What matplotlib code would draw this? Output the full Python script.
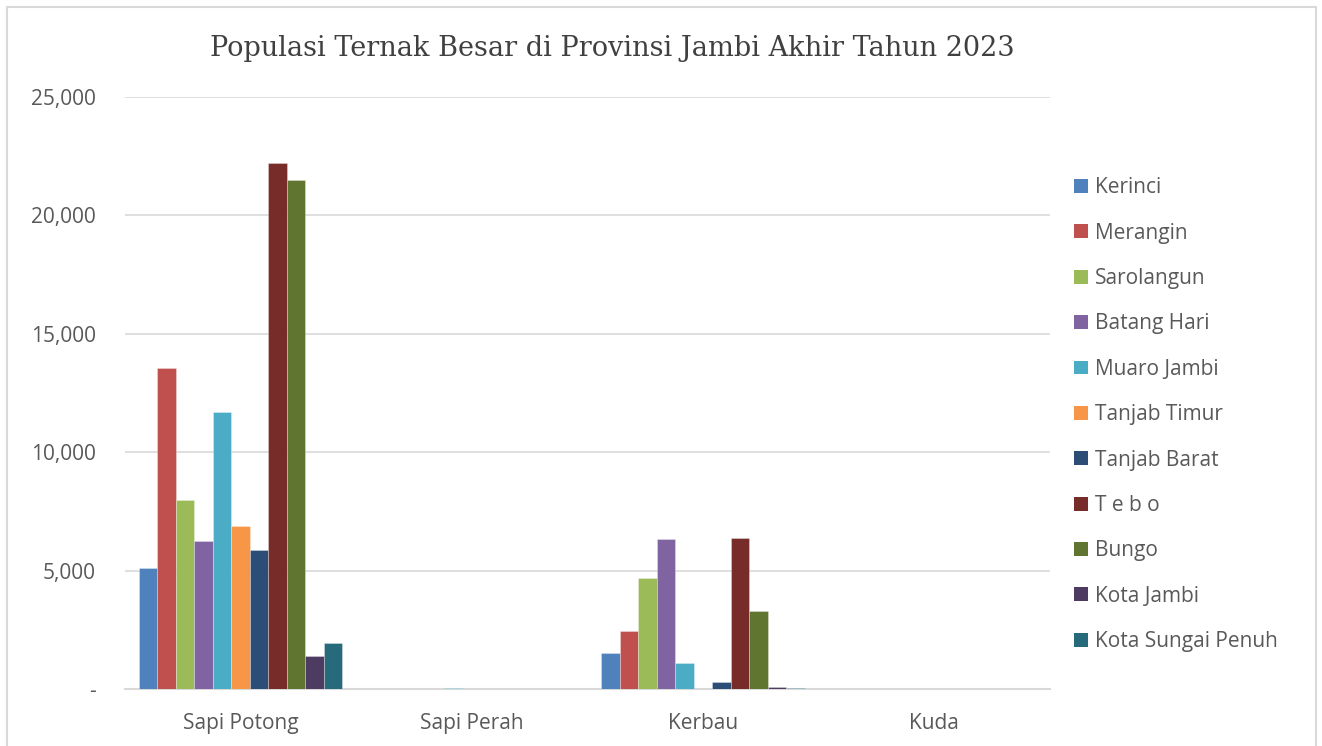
import matplotlib
matplotlib.use("Agg")
import matplotlib.pyplot as plt
from matplotlib.patches import Rectangle, Patch
from matplotlib.ticker import FuncFormatter
import numpy as np

categories = ["Sapi Potong", "Sapi Perah", "Kerbau", "Kuda"]
regions = ["Kerinci", "Merangin", "Sarolangun", "Batang Hari", "Muaro Jambi",
           "Tanjab Timur", "Tanjab Barat", "T e b o", "Bungo", "Kota Jambi",
           "Kota Sungai Penuh"]

# population per region: [Sapi Potong, Sapi Perah, Kerbau, Kuda]
kerinci = [5110, 0, 1530, 12]
merangin = [13560, 0, 2450, 0]
sarolangun = [7980, 0, 4690, 0]
batang_hari = [6270, 0, 6330, 0]
muaro_jambi = [11700, 25, 1085, 0]
tanjab_timur = [6880, 0, 15, 0]
tanjab_barat = [5870, 0, 310, 0]
tebo = [22210, 0, 6370, 0]
bungo = [21500, 0, 3290, 10]
kota_jambi = [1390, 0, 90, 0]
kota_sungai_penuh = [1930, 0, 30, 15]

series = [kerinci, merangin, sarolangun, batang_hari, muaro_jambi, tanjab_timur,
          tanjab_barat, tebo, bungo, kota_jambi, kota_sungai_penuh]

colors = ["#4F81BD", "#C0504D", "#9BBB59", "#8064A2", "#4BACC6", "#F79646",
          "#2C4D75", "#772C2A", "#5F7530", "#4D3B62", "#276A7C"]

W, H = 1322, 746
fig = plt.figure(figsize=(W / 100, H / 100), dpi=100)
fig.patch.set_facecolor("white")

# chart frame
fig.add_artist(Rectangle((6.5 / W, -0.05), (1315.5 - 6.5) / W, 1 - 6.5 / H + 0.05,
                         transform=fig.transFigure, fill=False,
                         edgecolor="#d9d9d9", linewidth=1.5))

ax = fig.add_axes([125 / W, 1 - 689 / H, (1050 - 125) / W, (689 - 97) / H])

x = np.arange(len(categories))
n = len(series)
bw = 0.08
for i, (vals, c) in enumerate(zip(series, colors)):
    offs = (i - (n - 1) / 2) * bw
    ax.bar(x + offs, vals, width=bw, color=c, edgecolor=(1, 1, 1, 0.35),
           linewidth=0.6, zorder=3)

ax.set_xlim(-0.5, 3.5)
ax.set_ylim(0, 25000)
ax.set_yticks(np.arange(0, 25001, 5000))
ax.yaxis.set_major_formatter(FuncFormatter(lambda v, p: "-" if v == 0 else f"{int(v):,}"))
ax.grid(axis="y", color="#d9d9d9", linewidth=1.2, zorder=0)
ax.set_xticks(x)
ax.set_xticklabels(categories)
for s in ["top", "right", "left"]:
    ax.spines[s].set_visible(False)
ax.spines["bottom"].set_color("#d9d9d9")
ax.spines["bottom"].set_linewidth(1.5)
ax.tick_params(axis="both", length=0, labelsize=15, labelcolor="#595959")
ax.tick_params(axis="y", pad=21)
ax.tick_params(axis="x", pad=17)
for lab in ax.get_xticklabels() + ax.get_yticklabels():
    lab.set_fontfamily("Open Sans")

fig.text(612 / W, 1 - 48 / H, "Populasi Ternak Besar di Provinsi Jambi Akhir Tahun 2023",
         ha="center", va="center", fontsize=19.5, family="DejaVu Serif",
         color="#404040")

handles = [Patch(facecolor=c, edgecolor="none") for c in colors]
fig.legend(handles, regions, loc="upper left", bbox_to_anchor=(1066 / W, 1 - 169 / H),
           frameon=False, prop={"family": "Open Sans", "size": 15},
           labelcolor="#595959", handlelength=0.65, handleheight=0.65,
           handletextpad=0.35, labelspacing=1.17, borderaxespad=0)

fig.savefig("out.png", dpi=100)
